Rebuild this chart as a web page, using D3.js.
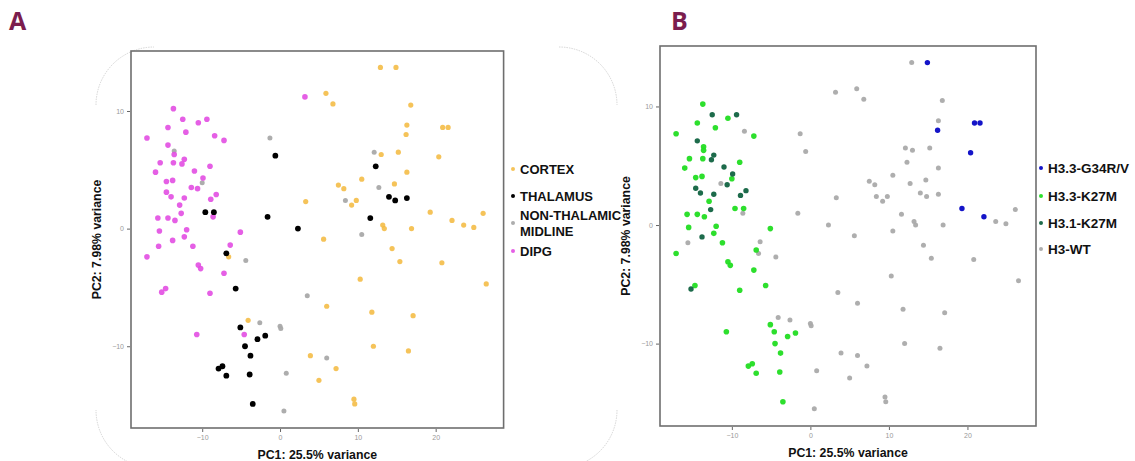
<!DOCTYPE html>
<html lang="en">
<head>
    <meta charset="UTF-8">
    <title>PCA - regions and histone status</title>
    <script src="https://d3js.org/d3.v7.min.js"></script>
    <style>
        body { margin: 0; background: #fff; }
        svg { display: block; }
        .tick text { font-family: "Liberation Sans", Arial, sans-serif; font-size: 7px; fill: #999; }
        .tick line { stroke: #666; }
        .axis path { display: none; }
        .title { font-family: "Liberation Sans", Arial, sans-serif; font-weight: bold; font-size: 12.3px; fill: #111; }
        .legend text { font-family: "Liberation Sans", Arial, sans-serif; font-weight: bold; font-size: 13px; fill: #111; }
        .panel { font-family: "Open Sans", "DejaVu Sans", sans-serif; font-weight: bold; font-size: 25px; fill: #7b1d4e; }
    </style>
</head>
<body>
<script>
    // PCA coordinates (same samples in both panels)
    var pc1 = [3.2, -13.7, -12.5, -10.5, -9.4, -14.4, -12.1, -17.1, -8.4, -7.2,
        -14.4, -13.6, -13.6, -15.4, -13.7, -12.6, -12.3, -16.0, -11.0, -9.0,
        -14.6, -13.8, -9.9, -10.0, -11.4, -10.6, -14.6, -14.0, -12.3, -8.2,
        -8.9, -12.9, -12.7, -8.6, -15.7, -14.4, -13.5, -15.5, -12.0, -5.1,
        -13.8, -12.3, -15.6, -11.2, -6.4, -17.1, -10.5, -10.2, -7.2, -15.2,
        -14.7, -9.0, -10.7, -4.6,
        -0.6, -9.6, -8.5, -1.6, 2.3, 12.3, 14.0, 14.8, 16.3, 11.6,
        -6.9, -5.7, -5.1, -2.9, -1.9, -4.5, -3.8, -7.9, -7.4, -6.9, -3.9, -3.5,
        -1.3, 12.1, 12.7, 8.4, 10.5, -4.4, 3.5, -2.6, 0.0, 0.1, 6.0, 0.8, 0.5,
        12.9, 14.9, 5.9, 6.8, 16.8, 16.3, 20.9, 21.6, 16.2, 13.0,
        15.2, 20.4, 16.3, 10.5, 7.5, 8.2, 14.7, 9.8, 9.2, 3.3,
        19.3, 22.1, 23.6, 24.9, 26.1, 13.2, 13.4, 16.9, 5.6, -6.6,
        -4.1, 14.4, 15.4, 20.8, 10.3, 26.5, 6.0, 11.8, 17.1, 12.0,
        16.5, 3.9, 7.2, 5.0, 9.5, 9.6];
    var pc2 = [11.2, 10.2, 9.3, 9.0, 9.3, 8.6, 8.2, 7.7, 7.9, 7.5,
        7.1, 6.6, 6.3, 5.6, 5.6, 5.5, 5.9, 4.8, 4.9, 5.3,
        4.0, 4.1, 4.3, 3.9, 3.5, 3.4, 3.1, 2.7, 2.6, 2.9,
        2.5, 2.0, 1.3, 1.0, 0.9, 0.9, 0.7, -0.2, -0.1, -0.3,
        -1.0, -0.7, -1.5, -1.5, -1.4, -2.4, -3.1, -3.4, -3.8, -5.4,
        -5.1, -5.5, -9.0, -9.0,
        6.2, 1.4, 1.4, 1.0, 0.0, 5.3, 2.7, 2.4, 2.6, 0.9,
        -2.1, -5.1, -8.4, -9.4, -9.1, -10.0, -10.8, -11.9, -11.7, -12.5, -12.4, -14.9,
        7.7, 6.5, 3.5, 2.4, -0.5, -2.7, -5.7, -8.0, -8.3, -8.5, -11.0, -12.3, -15.5,
        13.7, 13.7, 11.5, 10.6, 10.5, 8.8, 8.6, 8.6, 8.0, 6.3,
        6.5, 6.1, 4.8, 4.2, 3.7, 3.4, 3.8, 2.4, 2.0, 2.3,
        1.4, 0.7, 0.3, 0.1, 1.3, 0.3, 0.0, 0.0, -0.9, -2.4,
        -7.8, -1.7, -2.8, -2.9, -4.3, -4.7, -6.6, -7.1, -7.4, -10.0,
        -10.4, -10.8, -11.9, -12.9, -14.5, -14.9];

    // panel A grouping: C cortex, T thalamus, N non-thalamic midline, D DIPG
    var region = ("DDDDDDDDDDDNDDDDDDDDDDDNDDDDDDDDDDDDDDDDDDDDDDDDDDDDDD" +
        "TTTTTTTTTTTTTTTTTTTTTT" +
        "NNNNNNNNNNNNN" +
        "CCCCCCCCCCCCCCCCCCCCCCCCCCCCCCCCCCCCCCCCCCCCCC").split("");
    // panel B grouping: G H3.3-G34R/V, K H3.3-K27M, J H3.1-K27M, W H3-WT
    var histone = ("WKJKJKKKWKJKKKKJJKJKKKJKWJJJJJJKJWKKKKKKJKWKWKKKKJKKKK" +
        "WKKWWWWWWWKKKKKKKKKKKK" +
        "WWWWWWWWWWWWW" +
        "WGWWWWGGGWWGWWWWWWWWGGWWWWWWWWWWWWWWWWWWWWWWWW").split("");

    var regionKeys = ["C", "T", "N", "D"];
    var regionLabels = [["CORTEX"], ["THALAMUS"], ["NON-THALAMIC", "MIDLINE"], ["DIPG"]];
    var regionColors = ["#f3b93c", "#000000", "#a9a9a9", "#e24ee2"];

    var histoneKeys = ["G", "K", "J", "W"];
    var histoneLabels = [["H3.3-G34R/V"], ["H3.3-K27M"], ["H3.1-K27M"], ["H3-WT"]];
    var histoneColors = ["#1414c8", "#22dd22", "#1d6b4b", "#aaaaaa"];

    var xTicks = [-10, 0, 10, 20];
    var yTicks = [-10, 0, 10];

    var width = 1135, height = 461;
    var svg = d3.select("body").append("svg")
        .attr("width", width)
        .attr("height", height);

    // faint rounded frame corners around panel A
    function corner(cx, cy, r, a0, a1) {
        var p = d3.path();
        p.arc(cx, cy, r, a0, a1);
        return p.toString();
    }
    var fr = { x0: 96, y0: 47, x1: 617, y1: 468, r: 58 };
    [[fr.x0 + fr.r, fr.y0 + fr.r, Math.PI, 1.5 * Math.PI],
     [fr.x1 - fr.r, fr.y0 + fr.r, 1.5 * Math.PI, 2 * Math.PI],
     [fr.x1 - fr.r, fr.y1 - fr.r, 0, 0.5 * Math.PI],
     [fr.x0 + fr.r, fr.y1 - fr.r, 0.5 * Math.PI, Math.PI]].forEach(function(c) {
        svg.append("path")
            .attr("d", corner(c[0], c[1], fr.r, c[2], c[3]))
            .attr("fill", "none")
            .attr("stroke", "#bbb")
            .attr("stroke-width", 0.6)
            .attr("stroke-dasharray", "1.5,1");
    });

    function drawPanel(opt) {
        var x = d3.scaleLinear().domain([-19.15, 28.73]).range([opt.left, opt.right]);
        var y = d3.scaleLinear().domain([-16.95, 15.1]).range([opt.bottom, opt.top]);
        var g = svg.append("g");

        g.append("text")
            .attr("class", "panel")
            .attr("x", opt.labelX)
            .attr("y", 30)
            .text(opt.label);

        g.append("g")
            .attr("class", "axis")
            .attr("transform", "translate(0," + (opt.bottom + 1) + ")")
            .call(d3.axisBottom(x).tickValues(xTicks).tickSize(3).tickPadding(3));

        g.append("g")
            .attr("class", "axis")
            .attr("transform", "translate(" + (opt.left - 1) + ",0)")
            .call(d3.axisLeft(y).tickValues(yTicks).tickSize(3).tickPadding(3));

        var keys = opt.keys, colors = opt.colors;
        var data = pc1.map(function(v, i) {
            return { x: v, y: pc2[i], k: opt.groups[i] };
        });
        // draw grey/pale groups first so darker dots sit on top
        var order = opt.order;
        data.sort(function(a, b) { return order.indexOf(a.k) - order.indexOf(b.k); });

        g.selectAll("circle.pt")
            .data(data)
            .enter()
            .append("circle")
            .attr("class", "pt")
            .attr("cx", function(d) { return x(d.x); })
            .attr("cy", function(d) { return y(d.y); })
            .attr("r", function(d) { return opt.radius[keys.indexOf(d.k)]; })
            .attr("fill", function(d) { return colors[keys.indexOf(d.k)]; })
            .attr("fill-opacity", function(d) { return opt.alpha[keys.indexOf(d.k)]; });

        g.append("rect")
            .attr("x", opt.left)
            .attr("y", opt.top)
            .attr("width", opt.right - opt.left)
            .attr("height", opt.bottom - opt.top)
            .attr("fill", "none")
            .attr("stroke", "#6e6e6e")
            .attr("stroke-width", 1.6);

        g.append("text")
            .attr("class", "title")
            .attr("x", (opt.left + opt.right) / 2)
            .attr("y", opt.bottom + 31)
            .attr("text-anchor", "middle")
            .text("PC1: 25.5% variance");

        g.append("text")
            .attr("class", "title")
            .attr("transform", "translate(" + (opt.left - 30) + "," + ((opt.top + opt.bottom) / 2) + ") rotate(-90)")
            .attr("text-anchor", "middle")
            .text("PC2: 7.98% variance");

        var lg = g.append("g").attr("class", "legend");
        opt.labels.forEach(function(lines, i) {
            var ly = opt.legendY[i];
            var dy = lines.length > 1 ? -7.5 : 0;
            lg.append("circle")
                .attr("cx", opt.legendX)
                .attr("cy", ly)
                .attr("r", 2)
                .attr("fill", colors[i])
                .attr("fill-opacity", opt.alpha[i]);
            lines.forEach(function(t, j) {
                lg.append("text")
                    .attr("x", opt.legendX + 7)
                    .attr("y", ly + dy + j * 15.5)
                    .attr("dy", "0.36em")
                    .style("font-size", opt.legendSize + "px")
                    .text(t);
            });
        });
    }

    drawPanel({
        label: "A", labelX: 9,
        left: 131, right: 503.6, top: 51, bottom: 428,
        groups: region, keys: regionKeys, colors: regionColors,
        labels: regionLabels,
        order: ["C", "N", "D", "T"],
        radius: [2.6, 2.9, 2.5, 2.8],
        alpha: [0.85, 1, 0.95, 0.9],
        legendX: 513, legendY: [169, 196, 223, 251], legendSize: 13
    });

    drawPanel({
        label: "B", labelX: 671,
        left: 660, right: 1036, top: 46, bottom: 426,
        groups: histone, keys: histoneKeys, colors: histoneColors,
        labels: histoneLabels,
        order: ["W", "K", "J", "G"],
        radius: [2.7, 2.8, 2.7, 2.5],
        alpha: [1, 0.95, 1, 0.95],
        legendX: 1041, legendY: [168, 196, 223, 249], legendSize: 13.5
    });
</script>
</body>
</html>
